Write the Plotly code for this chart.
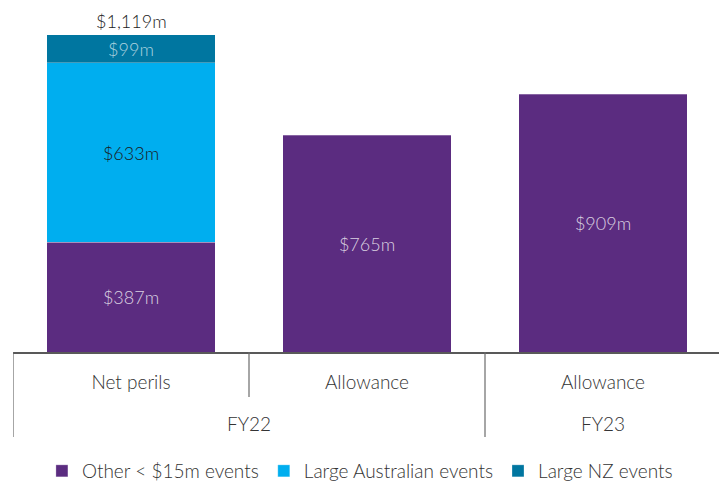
import plotly.graph_objects as go

years = ["FY22", "FY22", "FY23"]
categories = ["Net perils", "Allowance", "Allowance"]
other_events = [387, 765, 909]
large_aus = [633, None, None]
large_nz = [99, None, None]
totals = [1119, None, None]

pos = list(range(len(categories)))


def lab(vals):
    return [f"${v:,}m" if v is not None else "" for v in vals]


FONT = "Lato"
LBL = 18
fig = go.Figure()
edge = dict(color="rgba(255,255,255,0.55)", width=0.5)
fig.add_trace(go.Bar(
    x=pos, y=other_events, name="Other < $15m events",
    marker=dict(color="#5B2C80", line=edge),
    text=lab(other_events), textposition="inside", insidetextanchor="middle",
    textfont=dict(color="rgba(255,255,255,0.78)", size=LBL, family=FONT, weight=300),
))
fig.add_trace(go.Bar(
    x=pos, y=large_aus, name="Large Australian events",
    marker=dict(color="#00AEEF", line=edge),
    text=lab(large_aus), textposition="inside", insidetextanchor="middle",
    textfont=dict(color="#1a1a1a", size=LBL, family=FONT, weight=300),
))
fig.add_trace(go.Bar(
    x=pos, y=large_nz, name="Large NZ events",
    marker=dict(color="#0076A0", line=edge),
    text=lab(large_nz), textposition="inside", insidetextanchor="middle",
    textfont=dict(color="rgba(255,255,255,0.68)", size=LBL, family=FONT, weight=300),
))

# group (outer level) labels and boundary lines derived from the years list
plot_h = 344.0
shapes = []
annotations = []
for p, t, s in zip(pos, totals, lab(totals)):
    if t is not None:
        annotations.append(dict(
            x=p, y=t, xref="x", yref="y", text=s, showarrow=False,
            xanchor="center", yanchor="bottom", yshift=2, borderpad=0,
            font=dict(family=FONT, size=LBL, color="#222", weight=300),
        ))
groups = []
start = 0
for i in range(1, len(years) + 1):
    if i == len(years) or years[i] != years[start]:
        groups.append((years[start], start, i - 1))
        start = i
line_style = dict(color="#6b6b6b", width=1.2)
full_len = -85 / plot_h
short_len = -45 / plot_h
for name, a, b in groups:
    annotations.append(dict(
        x=(a + b) / 2, y=-71 / plot_h, xref="x", yref="paper", text=name,
        showarrow=False, yanchor="middle", xanchor="center",
        font=dict(family=FONT, size=19, color="#333", weight=300),
    ))
    shapes.append(dict(type="line", xref="x", yref="paper", x0=a - 0.5, x1=a - 0.5,
                       y0=0, y1=full_len, line=line_style))
    for k in range(a, b):
        shapes.append(dict(type="line", xref="x", yref="paper", x0=k + 0.5, x1=k + 0.5,
                           y0=0, y1=short_len, line=line_style))
shapes.append(dict(type="line", xref="x", yref="paper", x0=len(years) - 0.5,
                   x1=len(years) - 0.5, y0=0, y1=full_len, line=line_style))

fig.update_layout(
    width=727, height=484,
    barmode="stack", bargap=0.288,
    margin=dict(l=5, r=14, t=0, b=140, autoexpand=False),
    plot_bgcolor="white", paper_bgcolor="white",
    font=dict(family=FONT, size=19, color="#333", weight=300),
    legend=dict(orientation="h", x=0.49, xanchor="center", y=-119 / plot_h,
                yanchor="middle", traceorder="normal",
                font=dict(size=19, color="#333"), itemwidth=30),
    showlegend=True,
    shapes=shapes,
    annotations=annotations,
)
fig.update_yaxes(range=[0, 1214], visible=False, showgrid=False, automargin=False)
fig.update_xaxes(
    range=[-0.5, len(categories) - 0.5], tickvals=pos, ticktext=categories,
    showline=True, linecolor="#595959", linewidth=1.5, ticks="",
    ticklabelstandoff=12, zeroline=False,
    tickfont=dict(size=19, color="#333", family=FONT, weight=300),
    showgrid=False, automargin=False,
)

fig.write_html("out.html")
